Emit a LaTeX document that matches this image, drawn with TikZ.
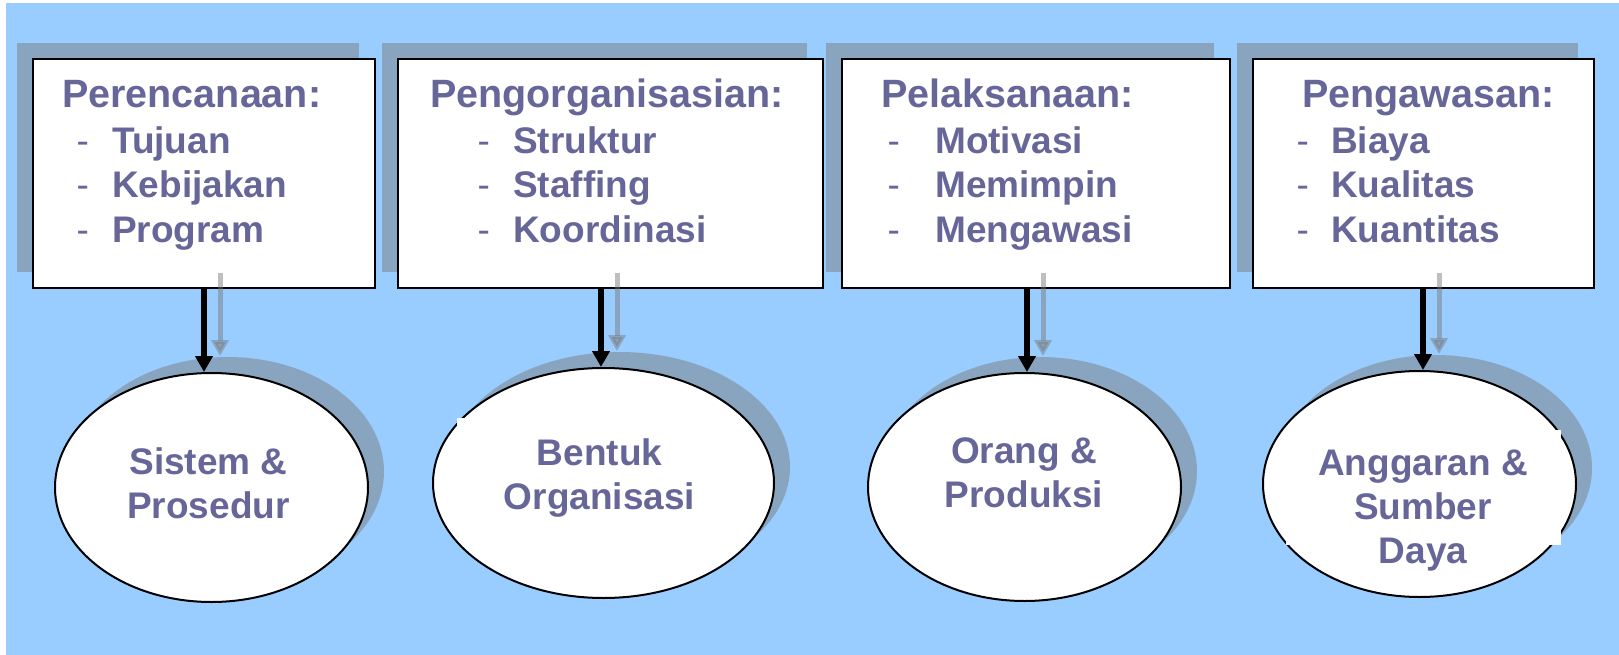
\documentclass[tikz,border=0pt]{standalone}
\usepackage{fontspec}
\setmainfont{Liberation Sans}
\usetikzlibrary{shapes.geometric,shadows,arrows.meta}
\definecolor{bgblue}{RGB}{153,204,255}
\definecolor{shadowgray}{RGB}{121,121,121}
\definecolor{inkblue}{RGB}{102,102,153}
\begin{document}
\begin{tikzpicture}[x=1pt,y=-1pt,
  card/.style={rectangle,draw=black,line width=2pt,fill=white,inner sep=0pt,minimum height=229pt,
    general shadow={shadow xshift=-16pt,shadow yshift=16pt,fill=shadowgray,opacity=.47}},
  oval/.style={ellipse,draw=black,line width=2pt,fill=white,inner sep=0pt,
    general shadow={shadow xshift=16pt,shadow yshift=16pt,fill=shadowgray,opacity=.47}},
  head/.style={inner sep=0pt,anchor=base west,text=inkblue,font=\fontsize{39.5}{44}\selectfont\bfseries},
  entry/.style={inner sep=0pt,anchor=base west,text=inkblue,font=\fontsize{37}{44}\selectfont\bfseries},
  hyph/.style={inner sep=0pt,anchor=base west,text=inkblue,font=\fontsize{37}{44}\selectfont},
  result/.style={inner sep=0pt,anchor=north,align=center,text=inkblue,font=\fontsize{37}{44}\selectfont\bfseries},
  link/.style={line width=6pt,-{Triangle[width=17pt,length=16pt]}},
  ghost/.style={line width=5pt,draw=shadowgray,opacity=.47,-{Triangle[width=17pt,length=16pt]},
    transform canvas={shift={(16pt,16pt)}}}]
  \useasboundingbox (0,0) rectangle (1619,655);
  \fill[white] (0,0) rectangle (1619,655);
  \fill[bgblue] (6,3) rectangle (1619,655); % background
  % boxes
  \node[card,minimum width=342pt] (plan) at (204,173.5) {};
  \node[card,minimum width=425pt] (org) at (610.5,173.5) {};
  \node[card,minimum width=388pt] (act) at (1036,173.5) {};
  \node[card,minimum width=341pt] (ctrl) at (1423.5,173.5) {};
  % ovals
  \node[oval,minimum width=313pt,minimum height=229pt] (planE) at (211.5,487.5) {};
  \node[oval,minimum width=341pt,minimum height=230pt] (orgE) at (603.5,483) {};
  \node[oval,minimum width=313pt,minimum height=228pt] (actE) at (1024.5,487) {};
  \node[oval,minimum width=313pt,minimum height=226pt] (ctrlE) at (1419.5,484) {};
  \fill[white] (457,418) rectangle (740,535);
  \fill[white] (1286,430) rectangle (1561,545);
  % arrows
  \coordinate (planA) at (204,0);
  \coordinate (orgA) at (601,0);
  \coordinate (actA) at (1027,0);
  \coordinate (ctrlA) at (1423,0);
  \foreach \n in {plan,org,act,ctrl}{
    \draw[ghost] (\n.south -| \n A) -- (\n E.north -| \n A);
    \draw[link] (\n.south -| \n A) -- (\n E.north -| \n A);
  }
  % box texts
  \node[head] (planH) at (62,108) {Perencanaan:};
  \foreach \w [count=\i] in {Tujuan,Kebijakan,Program}{
    \node[hyph] (planD\i) at (76.5,{110+44*\i}) {-};
    \node[entry] (planI\i) at (112,{110+44*\i}) {\w};
  }
  \node[head] (orgH) at (430,108) {Pengorganisasian:};
  \foreach \w [count=\i] in {Struktur,Staffing,Koordinasi}{
    \node[hyph] (orgD\i) at (477.5,{110+44*\i}) {-};
    \node[entry] (orgI\i) at (513,{110+44*\i}) {\w};
  }
  \node[head] (actH) at (881,108) {Pelaksanaan:};
  \foreach \w [count=\i] in {Motivasi,Memimpin,Mengawasi}{
    \node[hyph] (actD\i) at (887.5,{110+44*\i}) {-};
    \node[entry] (actI\i) at (935,{110+44*\i}) {\w};
  }
  \node[head] (ctrlH) at (1302,108) {Pengawasan:};
  \foreach \w [count=\i] in {Biaya,Kualitas,Kuantitas}{
    \node[hyph] (ctrlD\i) at (1296.5,{110+44*\i}) {-};
    \node[entry] (ctrlI\i) at (1331,{110+44*\i}) {\w};
  }
  % oval texts
  \node[result] (planL) at (208.5,447.5) {Sistem \&\\Prosedur};
  \node[result] (orgL) at (599.5,438.5) {Bentuk\\Organisasi};
  \node[result] (actL) at (1024,437.5) {Orang \&\\Produksi};
  \node[result] (ctrlL) at (1423,450) {Anggaran \&\\Sumber\\Daya};
\end{tikzpicture}
\end{document}
